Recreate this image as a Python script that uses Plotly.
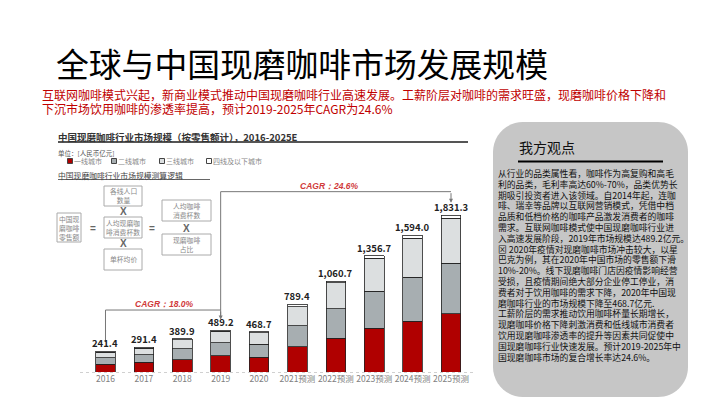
import plotly.graph_objects as go

W, H = 720, 405
OFF = 8  # page margin around the plot div
FONT = "Noto Sans CJK SC"

# data (亿元)
years = ["2016", "2017", "2018", "2019", "2020", "2021预测", "2022预测", "2023预测", "2024预测", "2025预测"]
tier1 = [91.9, 112.4, 145.0, 187.2, 174.7, 292.0, 392.0, 508.0, 595.0, 681.0]
tier2 = [75.0, 87.0, 124.0, 155.0, 147.0, 250.0, 346.0, 434.0, 513.0, 589.0]
tier3 = [62.0, 79.5, 108.0, 135.0, 135.0, 220.0, 303.7, 384.0, 455.0, 522.3]
tier4 = [12.5, 12.5, 12.9, 12.0, 12.0, 27.4, 19.0, 30.7, 31.0, 39.0]
totals = [241.4, 291.4, 389.9, 489.2, 468.7, 789.4, 1060.7, 1356.7, 1594.0, 1831.3]
series_names = ["一线城市", "二线城市", "三线城市", "四线及以下城市"]
series_colors = ["#b00000", "#a7aeb1", "#dcdfe0", "#ffffff"]
cagr_labels = ["CAGR：18.0%", "CAGR：24.6%"]

title = "全球与中国现磨咖啡市场发展规模"
subtitle = ["互联网咖啡模式兴起，新商业模式推动中国现磨咖啡行业高速发展。工薪阶层对咖啡的需求旺盛，现磨咖啡价格下降和",
            "下沉市场饮用咖啡的渗透率提高，预计2019-2025年CAGR为24.6%"]
chart_title = "中国现磨咖啡行业市场规模（按零售额计），2016-2025E"
unit_text = "单位：[人民币亿元]"
logic_title = "中国现磨咖啡行业市场规模测算逻辑"
panel_title = "我方观点"
panel_lines = [
    "从行业的品类属性看，咖啡作为高复购和高毛",
    "利的品类，毛利率高达60%-70%，品类优势长",
    "期吸引投资者进入该领域。自2014年起，连咖",
    "啡、瑞幸等品牌以互联网营销模式，凭借中档",
    "品质和低档价格的咖啡产品激发消费者的咖啡",
    "需求。互联网咖啡模式使中国现磨咖啡行业进",
    "入高速发展阶段，2019年市场规模达489.2亿元。",
    "⊠ 2020年疫情对现磨咖啡市场冲击较大，以星",
    "巴克为例，其在2020年中国市场的零售额下滑",
    "10%-20%。线下现磨咖啡门店因疫情影响经营",
    "受损，且疫情期间绝大部分企业停工停业，消",
    "费者对于饮用咖啡的需求下降，2020年中国现",
    "磨咖啡行业的市场规模下降至468.7亿元.",
    "工薪阶层的需求推动饮用咖啡杯量长期增长，",
    "现磨咖啡价格下降刺激消费和低线城市消费者",
    "饮用现磨咖啡渗透率的提升等因素共同促使中",
    "国现磨咖啡行业快速发展。预计2019-2025年中",
    "国现磨咖啡市场的复合增长率达24.6%。",
]
flow_boxes = ["中国现<br>磨咖啡<br>零售额", "各线人口<br>数量", "人均现磨咖<br>啡消费杯数",
              "单杯均价", "人均咖啡<br>消费杯数", "现磨咖啡<br>占比"]

FW, FH = W - OFF, H - OFF


def X(p):
    return (p - OFF) / FW


def Y(p):
    return 1 - (p - OFF) / FH


def label(x, y, text, size, color, family=FONT, xanchor="left"):
    return dict(x=X(x), y=Y(y), xref="paper", yref="paper", text=text, showarrow=False,
                xanchor=xanchor, yanchor="middle", font=dict(size=size, color=color, family=family))


fig = go.Figure()
for name, vals, col in zip(series_names, [tier1, tier2, tier3, tier4], series_colors):
    fig.add_trace(go.Bar(x=years, y=vals, name=name, marker_color=col,
                         marker_line_color="#222", marker_line_width=0.8))

shapes = []
ann = []

# bar totals
for i, t in enumerate(totals):
    ann.append(dict(x=i, y=t, xref="x", yref="y", text="<b>%s</b>" % f"{t:,.1f}", showarrow=False,
                    xanchor="center", yanchor="bottom", yshift=-1, font=dict(size=9.5, color="#222")))

# CAGR connectors
shapes.append(dict(type="path", xref="x", yref="y", path="M 0,350 L 0,723 L 3,723",
                   line=dict(color="#777", width=1)))
shapes.append(dict(type="path", xref="x", yref="y", path="M 3,650 L 3,2104 L 9,2104",
                   line=dict(color="#777", width=1)))
ann.append(dict(x=3, y=612, ax=3, ay=723, xref="x", yref="y", axref="x", ayref="y", text="",
                showarrow=True, arrowhead=2, arrowsize=0.8, arrowwidth=1, arrowcolor="#777"))
ann.append(dict(x=9, y=1975, ax=9, ay=2104, xref="x", yref="y", axref="x", ayref="y", text="",
                showarrow=True, arrowhead=2, arrowsize=0.8, arrowwidth=1, arrowcolor="#777"))
ann.append(label(164, 304, "<i><b>%s</b></i>" % cagr_labels[0], 8.5, "#d03a3a", "Arial", "center"))
ann.append(label(329, 186, "<i><b>%s</b></i>" % cagr_labels[1], 8.5, "#d03a3a", "Arial", "center"))

# baseline
shapes.append(dict(type="line", xref="paper", yref="paper", x0=X(80), x1=X(476), y0=Y(372.5), y1=Y(372.5),
                   line=dict(color="#d0d0d0", width=1, dash="dot"), layer="below"))

# title & subtitle
ann.append(label(54, 62, title, 32.8, "#000"))
for k, line in enumerate(subtitle):
    ann.append(label(40, 95 + 13 * k, line, 12, "#c00000"))

# chart header
ann.append(label(56, 137, "<b>%s</b>" % chart_title, 9.5, "#333"))
shapes.append(dict(type="line", xref="paper", yref="paper", x0=X(58), x1=X(468), y0=Y(142), y1=Y(142),
                   line=dict(color="#555", width=2)))
ann.append(label(56, 153, unit_text, 6.5, "#555"))
leg_x = [70, 114, 162, 209]
for name, col, lx in zip(series_names, series_colors, leg_x):
    shapes.append(dict(type="rect", xref="paper", yref="paper", x0=X(lx - 2.5), x1=X(lx + 2.5),
                       y0=Y(163.5), y1=Y(158.5), fillcolor=col, line=dict(color="#444", width=1)))
    ann.append(label(lx + 2, 161, name, 7, "#888"))
ann.append(label(56, 175, logic_title, 7.8, "#444"))
shapes.append(dict(type="line", xref="paper", yref="paper", x0=X(58), x1=X(210), y0=Y(179.5), y1=Y(179.5),
                   line=dict(color="#666", width=1)))

# flow diagram
box_pos = [(57, 213, 81, 242), (104, 186, 142, 206), (104, 217, 142, 238),
           (104, 249, 142, 270), (162, 200, 211, 221), (162, 234, 211, 255)]
for txt, (x0, y0, x1, y1) in zip(flow_boxes, box_pos):
    shapes.append(dict(type="rect", xref="paper", yref="paper", x0=X(x0), x1=X(x1), y0=Y(y1), y1=Y(y0),
                       line=dict(color="#aaa", width=1), fillcolor="#fff"))
    ann.append(label((x0 + x1) / 2, (y0 + y1) / 2, txt, 6.8, "#888", FONT, "center"))
for sym, ox, oy in [("=", 93, 228), ("X", 123, 211.5), ("X", 123, 244), ("=", 152, 228), ("X", 186.5, 228)]:
    ann.append(label(ox, oy, "<b>%s</b>" % sym, 10, "#666", "Arial", "center"))


# right panel
def rrect(x0, y0, x1, y1, r):
    c = 0.5523 * r
    pts = [("M", [(x0 + r, y0)]), ("L", [(x1 - r, y0)]),
           ("C", [(x1 - r + c, y0), (x1, y0 + r - c), (x1, y0 + r)]), ("L", [(x1, y1 - r)]),
           ("C", [(x1, y1 - r + c), (x1 - r + c, y1), (x1 - r, y1)]), ("L", [(x0 + r, y1)]),
           ("C", [(x0 + r - c, y1), (x0, y1 - r + c), (x0, y1 - r)]), ("L", [(x0, y0 + r)]),
           ("C", [(x0, y0 + r - c), (x0 + r - c, y0), (x0 + r, y0)])]
    s = ""
    for cmd, ps in pts:
        s += cmd + " " + " ".join("%.5f,%.5f" % (X(a), Y(b)) for a, b in ps) + " "
    return s + "Z"


shapes.append(dict(type="path", xref="paper", yref="paper", path=rrect(493, 122, 688, 397, 30),
                   fillcolor="#c6c6c6", line=dict(width=0), layer="below"))
ann.append(label(517, 147, panel_title, 14, "#111"))
shapes.append(dict(type="line", xref="paper", yref="paper", x0=X(518), x1=X(663), y0=Y(161.5), y1=Y(161.5),
                   line=dict(color="#000", width=2)))
for k, line in enumerate(panel_lines):
    ann.append(label(496, 173.5 + 10.8 * k, line, 8.8, "#111"))

fig.update_layout(
    width=FW, height=FH, margin=dict(l=0, r=0, t=0, b=0, autoexpand=False),
    barmode="stack", bargap=0.49, showlegend=False,
    paper_bgcolor="#fff", plot_bgcolor="rgba(0,0,0,0)",
    font=dict(family=FONT),
    shapes=shapes, annotations=ann,
    xaxis=dict(domain=[X(86.3), X(470.5)], showgrid=False, showline=False, ticks="",
               tickangle=0, automargin=False,
               tickfont=dict(size=8.5, color="#808080", family=FONT)),
    yaxis=dict(domain=[Y(372), Y(180)], range=[0, 2240], showgrid=False, zeroline=False,
               showticklabels=False, automargin=False),
)

fig.write_html("out.html")
